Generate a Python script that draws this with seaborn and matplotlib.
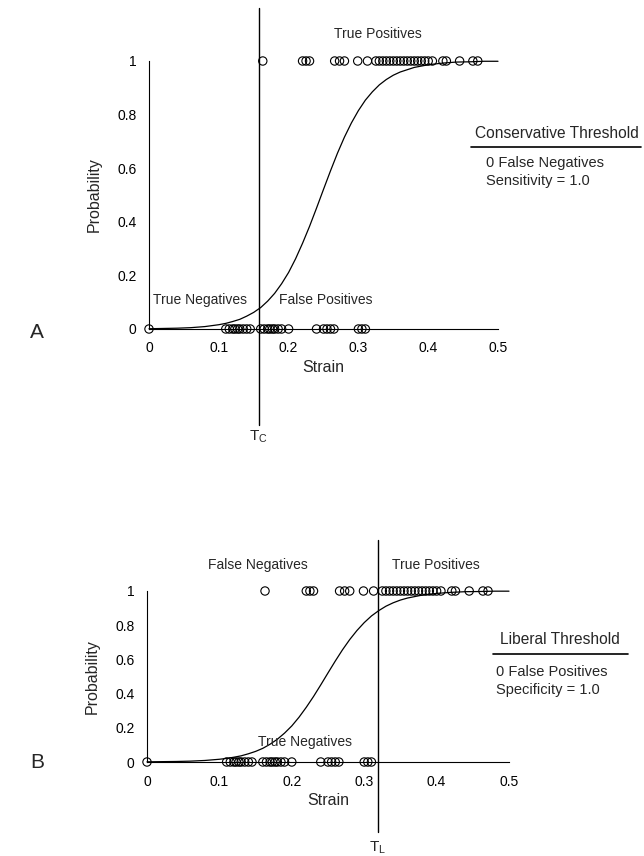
import numpy as np
import pandas as pd
import matplotlib
matplotlib.use("Agg")
import matplotlib.pyplot as plt
from matplotlib.lines import Line2D
import seaborn as sns

# ---------------- data ----------------
strain_positive = [0.163, 0.220, 0.225, 0.230, 0.266, 0.273, 0.280, 0.299, 0.313,
                   0.325, 0.330, 0.335, 0.340, 0.345, 0.350, 0.355, 0.360, 0.365,
                   0.370, 0.375, 0.380, 0.385, 0.390, 0.395, 0.400, 0.406, 0.421,
                   0.426, 0.445, 0.464, 0.471]
strain_negative = [0.0, 0.110, 0.115, 0.120, 0.123, 0.127, 0.130, 0.135, 0.140, 0.145,
                   0.160, 0.165, 0.170, 0.173, 0.177, 0.180, 0.185, 0.190, 0.200,
                   0.240, 0.250, 0.255, 0.260, 0.265, 0.300, 0.305, 0.310]
curve_strain = [0.00, 0.02, 0.04, 0.06, 0.08, 0.10, 0.11, 0.12, 0.13, 0.14, 0.15,
                0.16, 0.17, 0.18, 0.19, 0.20, 0.21, 0.22, 0.23, 0.24, 0.25, 0.26,
                0.27, 0.28, 0.29, 0.30, 0.31, 0.32, 0.33, 0.34, 0.35, 0.36, 0.38,
                0.40, 0.42, 0.44, 0.46, 0.48, 0.50]
curve_prob = [0.001, 0.002, 0.003, 0.005, 0.009, 0.016, 0.021, 0.028, 0.036, 0.048,
              0.062, 0.080, 0.104, 0.133, 0.169, 0.211, 0.262, 0.320, 0.383, 0.451,
              0.521, 0.590, 0.656, 0.716, 0.769, 0.815, 0.854, 0.885, 0.911, 0.931,
              0.947, 0.959, 0.976, 0.986, 0.992, 0.996, 0.997, 0.999, 0.999]
threshold_conservative = 0.157
threshold_liberal = 0.319
x_ticks = [0, 0.1, 0.2, 0.3, 0.4, 0.5]
x_tick_labels = ["0", "0.1", "0.2", "0.3", "0.4", "0.5"]
y_ticks = [0, 0.2, 0.4, 0.6, 0.8, 1.0]
y_tick_labels = ["0", "0.2", "0.4", "0.6", "0.8", "1"]

points = pd.DataFrame({
    "Strain": strain_positive + strain_negative,
    "Probability": [1] * len(strain_positive) + [0] * len(strain_negative),
})
curve = pd.DataFrame({"Strain": curve_strain, "Probability": curve_prob})

# ---------------- figure ----------------
sns.set_style("white")
plt.rcParams["font.family"] = ["Liberation Sans", "DejaVu Sans"]
plt.rcParams["mathtext.fontset"] = "custom"
plt.rcParams["mathtext.rm"] = "Liberation Sans"

W, H = 644, 856
fig = plt.figure(figsize=(W / 100, H / 100), dpi=100)


def fx(px):
    return px / W


def fy(py):
    return 1 - py / H


def axes_box(x0, x1, ytop, ybot):
    return [fx(x0), fy(ybot), fx(x1) - fx(x0), fy(ytop) - fy(ybot)]


ax_a = fig.add_axes(axes_box(149, 498, 61, 329))
ax_b = fig.add_axes(axes_box(147, 509, 591, 762))


def draw_panel(ax, thr, line_lo, line_hi):
    sns.lineplot(data=curve, x="Strain", y="Probability", ax=ax, color="black",
                 linewidth=0.9, sort=True, clip_on=False)
    sns.scatterplot(data=points, x="Strain", y="Probability", ax=ax, marker="o",
                    s=36, facecolors="none", edgecolors="black", linewidth=0.8,
                    clip_on=False, zorder=3)
    ax.plot([thr, thr], [line_lo, line_hi], color="black", linewidth=1.0,
            clip_on=False)
    ax.set_xlim(0, 0.5)
    ax.set_ylim(0, 1)
    ax.set_xticks(x_ticks)
    ax.set_xticklabels(x_tick_labels)
    ax.set_yticks(y_ticks)
    ax.set_yticklabels(y_tick_labels)
    ax.tick_params(axis="both", direction="out", length=4, width=0.8,
                   labelsize=10, pad=5, color="black", labelcolor="black")
    for side in ["top", "right"]:
        ax.spines[side].set_visible(False)
    for side in ["left", "bottom"]:
        ax.spines[side].set_color("black")
        ax.spines[side].set_linewidth(0.8)
    ax.set_xlabel("Strain", fontsize=11.5, labelpad=3)
    ax.set_ylabel("Probability", fontsize=11.5)


draw_panel(ax_a, threshold_conservative, (329 - 425) / 268, (329 - 8) / 268)
draw_panel(ax_b, threshold_liberal, (762 - 832) / 171, (762 - 540) / 171)
ax_a.yaxis.set_label_coords(-0.135, 0.5)
ax_b.yaxis.set_label_coords(-0.13, 0.5)

fs = 10
# panel A texts
fig.text(fx(378), fy(34), "True Positives", ha="center", va="center", fontsize=fs)
fig.text(fx(200), fy(300), "True Negatives", ha="center", va="center", fontsize=fs)
fig.text(fx(326), fy(300), "False Positives", ha="center", va="center", fontsize=fs)
fig.text(fx(557), fy(133), "Conservative Threshold", ha="center", va="center", fontsize=11.2)
fig.add_artist(Line2D([fx(471), fx(641)], [fy(147), fy(147)], color="black", linewidth=1.2))
fig.text(fx(486), fy(163), "0 False Negatives", ha="left", va="center", fontsize=10.5)
fig.text(fx(486), fy(181), "Sensitivity = 1.0", ha="left", va="center", fontsize=10.5)
fig.text(fx(37), fy(332), "A", ha="center", va="center", fontsize=15)
fig.text(fx(258), fy(437), r"T$_\mathregular{C}$", ha="center", va="center", fontsize=11)

# panel B texts
fig.text(fx(258), fy(565), "False Negatives", ha="center", va="center", fontsize=fs)
fig.text(fx(436), fy(565), "True Positives", ha="center", va="center", fontsize=fs)
fig.text(fx(305), fy(742), "True Negatives", ha="center", va="center", fontsize=fs)
fig.text(fx(560), fy(640), "Liberal Threshold", ha="center", va="center", fontsize=11.2)
fig.add_artist(Line2D([fx(493), fx(628)], [fy(654), fy(654)], color="black", linewidth=1.2))
fig.text(fx(496), fy(672), "0 False Positives", ha="left", va="center", fontsize=10.5)
fig.text(fx(496), fy(690), "Specificity = 1.0", ha="left", va="center", fontsize=10.5)
fig.text(fx(37), fy(762), "B", ha="center", va="center", fontsize=15)
fig.text(fx(378), fy(848), r"T$_\mathregular{L}$", ha="center", va="center", fontsize=11)

fig.savefig("out.png", dpi=100, facecolor="white")
